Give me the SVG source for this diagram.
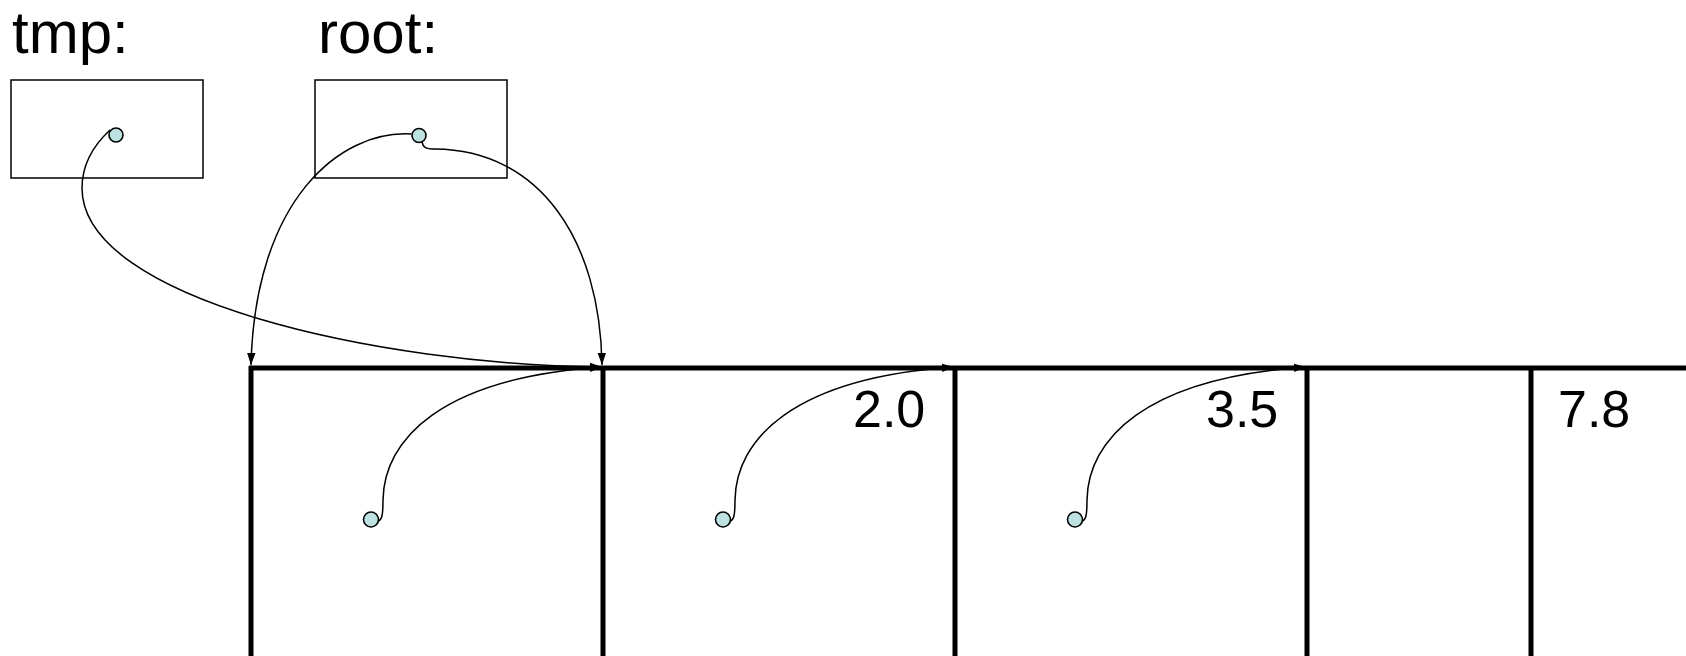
<svg xmlns="http://www.w3.org/2000/svg" width="1686" height="656" viewBox="0 0 1686 656">
<style>
  .lbl { font-family: "Liberation Sans", Arial, sans-serif; fill: #000; }
  .big { font-size: 60px; }
  .num { font-size: 52px; }
  .box { fill: #fff; stroke: #000; stroke-width: 1.5; }
  .dot { fill: #bde2e2; stroke: #000; stroke-width: 1.6; }
  .wall { stroke: #000; stroke-width: 5; fill: none; }
  .ptr { fill: none; stroke: #000; stroke-width: 1.5; marker-end: url(#arr); }
</style>
<defs>
  <marker id="arr" markerUnits="userSpaceOnUse" markerWidth="14" markerHeight="10" refX="12" refY="5" orient="auto">
    <path d="M0,0.8 L12,5 L0,9.2 Z" fill="#000"/>
  </marker>
</defs>
<rect width="1686" height="656" fill="#fff"/>

<g id="tmp">
  <text class="lbl big" x="12" y="53">tmp:</text>
  <rect class="box" x="11" y="80" width="192" height="98"/>
</g>
<g id="root">
  <text class="lbl big" x="318" y="53">root:</text>
  <rect class="box" x="315" y="80" width="192" height="98"/>
</g>

<g id="array">
  <path class="wall" d="M249 368 H1686"/>
  <path class="wall" d="M251 366 V656 M603 366 V656 M955 366 V656 M1307 366 V656 M1531 366 V656"/>
</g>
<g id="cell1"></g>
<g id="cell2"><text class="lbl num" x="853" y="427">2.0</text></g>
<g id="cell3"><text class="lbl num" x="1206" y="427">3.5</text></g>
<g id="cell4"><text class="lbl num" x="1558" y="427">7.8</text></g>

<g id="connectors">
  <path class="ptr" d="M110 130 C96 143, 82 163, 82 188 C82 300, 380 365, 602 367"/>
  <path class="ptr" d="M411 134 C340 130, 255 200, 251 365"/>
  <path class="ptr" d="M422 142 C423 147, 425 149, 435 149 C540 150, 600 240, 602 365"/>
  <path class="ptr" d="M378 521 C382 520, 383 515, 383 500 C384 440, 440 378, 602 367"/>
  <path class="ptr" d="M730 521 C734 520, 735 515, 735 500 C736 440, 792 378, 954 367"/>
  <path class="ptr" d="M1082 521 C1086 520, 1087 515, 1087 500 C1088 440, 1144 378, 1306 367"/>
</g>

<g id="dots">
  <circle class="dot" cx="116" cy="135" r="7"/>
  <circle class="dot" cx="419" cy="135.5" r="7"/>
  <circle class="dot" cx="371" cy="519.5" r="7.5"/>
  <circle class="dot" cx="723" cy="519.5" r="7.5"/>
  <circle class="dot" cx="1075" cy="519.5" r="7.5"/>
</g>
</svg>
